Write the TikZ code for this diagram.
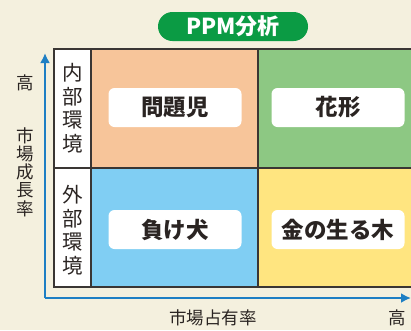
\documentclass[tikz,border=0pt]{standalone}
\usepackage{fontspec}
\newfontfamily\jp{Noto Sans CJK JP}
\usetikzlibrary{arrows.meta}
\definecolor{bgc}{HTML}{F4F0DE}
\definecolor{qorange}{HTML}{F7C59A}
\definecolor{qgreen}{HTML}{8DC883}
\definecolor{qblue}{HTML}{80CEF3}
\definecolor{qyellow}{HTML}{FFE580}
\definecolor{axisblue}{HTML}{1E7FC4}
\definecolor{pillgreen}{HTML}{0B9B44}
\definecolor{framec}{HTML}{3A3634}
\definecolor{txt}{HTML}{2A2422}
\tikzset{
  cell/.style={draw=framec, line width=1.1pt},
  namebox/.style={fill=white, rounded corners=6pt, minimum width=133pt, minimum height=39pt, inner sep=0pt,
    text=txt, font=\jp\bfseries\fontsize{22.5}{24}\selectfont},
  vlabel/.style={align=center, text=txt, inner sep=0pt, font=\jp\fontsize{20.5}{23.5}\selectfont},
  axlabel/.style={align=center, text=txt, inner sep=0pt, font=\jp\fontsize{17.5}{18.25}\selectfont},
  axis/.style={draw=axisblue, line width=2.8pt, -{Latex[length=10pt,width=10pt]}},
}
\begin{document}
\begin{tikzpicture}[x=1pt,y=-1pt]
\useasboundingbox (0,0) rectangle (411,330);
\fill[bgc] (0,0) rectangle (411,330);
% axes
\coordinate (origin) at (45,298);
\coordinate (ytip) at (45,53);
\coordinate (xtip) at (411,298);
\draw[axis] (origin) -- (ytip);
\draw[axis] (origin) -- (xtip);
% cells
\fill[white] (54,49) rectangle (91,287);
\fill[qorange] (91,49) rectangle (258,168);
\fill[qgreen] (258,49) rectangle (412,168);
\fill[qblue] (91,168) rectangle (258,287);
\fill[qyellow] (258,168) rectangle (412,287);
\draw[cell] (412,49) -- (54,49) -- (54,287) -- (412,287);
\draw[cell] (91,49) -- (91,287);
\draw[cell] (258,49) -- (258,287);
\draw[cell] (54,168) -- (412,168);
% title pill
\node[fill=pillgreen, rounded corners=14.5pt, minimum width=150pt, minimum height=29pt, inner sep=0pt,
  text=white, font=\jp\bfseries\fontsize{22}{24}\selectfont] (title) at (233,26.5) {PPM分析};
% quadrant names
\node[namebox] (q1) at (175,107.5) {問題児};
\node[namebox] (q2) at (338,107.5) {花形};
\node[namebox] (q3) at (175,229.5) {負け犬};
\node[namebox] (q4) at (338,229.5) {金の生る木};
% row labels
\node[vlabel] (inner) at (73,108) {内\\部\\環\\境};
\node[vlabel] (outer) at (73,230) {外\\部\\環\\境};
% axis labels
\node[axlabel] (yhigh) at (25,83) {高};
\node[axlabel] (ylab) at (25,172) {市\\場\\成\\長\\率};
\node[axlabel] (xlab) at (213,318) {市場占有率};
\node[axlabel] (xhigh) at (397,318) {高};
\end{tikzpicture}
\end{document}
